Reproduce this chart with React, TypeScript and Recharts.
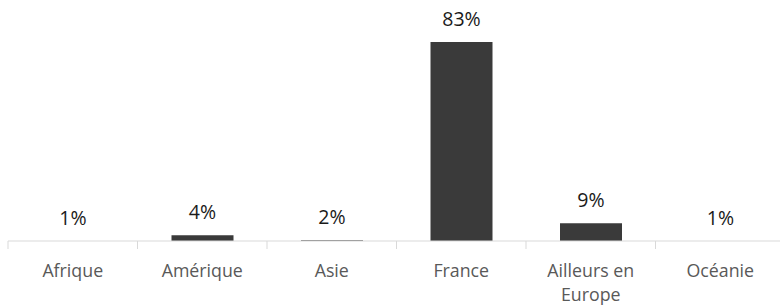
import React from 'react';
import { BarChart, Bar, XAxis, YAxis, LabelList, Text } from 'recharts';

const CATEGORIES = ['Afrique', 'Amérique', 'Asie', 'France', 'Ailleurs en Europe', 'Océanie'];
const SHARES = [1, 4, 2, 83, 9, 1];

const data = CATEGORIES.map((name, i) => ({ name, share: SHARES[i] }));

const FONT = '"Open Sans", sans-serif';
const BAND = 777 / CATEGORIES.length;

const CategoryTick = (props: any) => {
  const { x, y, payload } = props;
  return (
    <g>
      <line x1={x - BAND / 2} y1={y} x2={x - BAND / 2} y2={y + 8} stroke="#d9d9d9" strokeWidth={1} />
      <Text
        x={x}
        y={y + 23}
        width={110}
        textAnchor="middle"
        verticalAnchor="start"
        lineHeight={24}
        fontSize={17.8}
        fontFamily={FONT}
        fill="#595959"
      >
        {payload.value}
      </Text>
    </g>
  );
};

const ValueLabel = (props: any) => {
  const box = props.viewBox ?? props;
  const { x, y, width, height } = box;
  const top = Math.min(y, y + height);
  return (
    <text
      x={x + width / 2}
      y={top - 16}
      textAnchor="middle"
      fontSize={19.5}
      fontFamily={FONT}
      fill="#1a1a1a"
    >
      {`${Math.round(props.value)}%`}
    </text>
  );
};

export default function App() {
  return (
    <div style={{ position: 'absolute', left: 0, top: 0, width: 780, height: 305, overflow: 'hidden', background: '#fff' }}>
      <BarChart width={786} height={305} data={data} margin={{ top: 25, right: 1, left: 8, bottom: 0 }}>
        <XAxis
          dataKey="name"
          height={64}
          interval={0}
          tickLine={false}
          tickSize={0}
          tickMargin={0}
          axisLine={{ stroke: '#d9d9d9' }}
          tick={<CategoryTick />}
        />
        <YAxis hide domain={[1.7, 90]} allowDataOverflow />
        <Bar dataKey="share" fill="#3a3a3a" barSize={62} isAnimationActive={false}>
          <LabelList dataKey="share" content={<ValueLabel />} />
        </Bar>
      </BarChart>
    </div>
  );
}
